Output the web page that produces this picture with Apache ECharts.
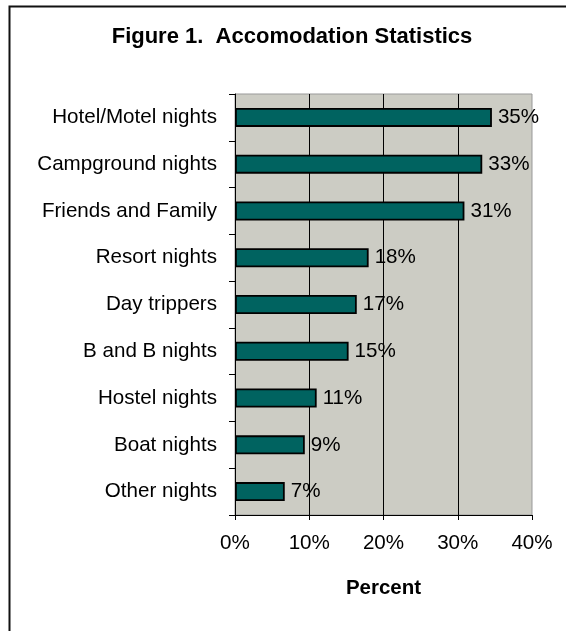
<!DOCTYPE html>
<html>
<head>
<meta charset="utf-8">
<script src="https://cdn.jsdelivr.net/npm/echarts@6/dist/echarts.min.js"></script>
<style>
  html, body { margin: 0; padding: 0; background: #fff; }
  #chart { width: 566px; height: 631px; }
</style>
</head>
<body>
<div id="chart"></div>
<script>
// categories top to bottom
var categories = ['Hotel/Motel nights', 'Campground nights', 'Friends and Family', 'Resort nights',
    'Day trippers', 'B and B nights', 'Hostel nights', 'Boat nights', 'Other nights'];
// bar lengths (percent)
var values = [34.6, 33.3, 30.9, 18.0, 16.4, 15.3, 11.0, 9.4, 6.7];
// labels printed beside the bars
var valueLabels = ['35%', '33%', '31%', '18%', '17%', '15%', '11%', '9%', '7%'];
var xTicks = [0, 10, 20, 30, 40];

var font = 'Liberation Sans, Arial, sans-serif';
var chart = echarts.init(document.getElementById('chart'));

var option = {
    animation: false,
    backgroundColor: '#fff',
    title: {
        text: 'Figure 1.  Accomodation Statistics',
        left: 292,
        top: 26,
        textAlign: 'center',
        padding: 0,
        textStyle: { fontFamily: font, fontSize: 22, fontWeight: 'bold', color: '#000' }
    },
    graphic: [{
        type: 'rect',
        shape: { x: 9.5, y: 6.5, width: 700, height: 700 },
        style: { fill: null, stroke: '#111', lineWidth: 2 },
        silent: true
    }],
    grid: {
        left: 235, right: 34, top: 94, bottom: 116,
        show: true,
        backgroundColor: '#CCCCC4',
        borderColor: '#999',
        borderWidth: 1
    },
    xAxis: {
        type: 'value',
        min: xTicks[0],
        max: xTicks[xTicks.length - 1],
        interval: 10,
        name: 'Percent',
        nameLocation: 'middle',
        nameGap: 63,
        nameTextStyle: { fontFamily: font, fontSize: 20.5, fontWeight: 'bold', color: '#000' },
        axisLine: { show: true, lineStyle: { color: '#000', width: 1 } },
        axisTick: { show: true, length: 5, lineStyle: { color: '#000' } },
        axisLabel: {
            margin: 18,
            fontFamily: font, fontSize: 20.6, color: '#000',
            formatter: function (v) { return v + '%'; }
        },
        splitLine: { show: true, showMaxLine: false, lineStyle: { color: '#000', width: 1 } }
    },
    yAxis: {
        type: 'category',
        data: categories,
        inverse: true,
        axisLine: { show: true, lineStyle: { color: '#000', width: 1 } },
        axisTick: { show: true, length: 6, lineStyle: { color: '#000' } },
        axisLabel: { margin: 18, fontFamily: font, fontSize: 20.6, color: '#000' },
        splitLine: { show: false }
    },
    series: [{
        type: 'bar',
        data: values,
        barWidth: 19,
        itemStyle: { color: '#006360', borderColor: '#000', borderWidth: 1.8 },
        label: {
            show: true,
            position: 'right',
            distance: 6,
            fontFamily: font, fontSize: 20.6, color: '#000',
            formatter: function (p) { return valueLabels[p.dataIndex]; }
        }
    }]
};

chart.setOption(option);
</script>
</body>
</html>
